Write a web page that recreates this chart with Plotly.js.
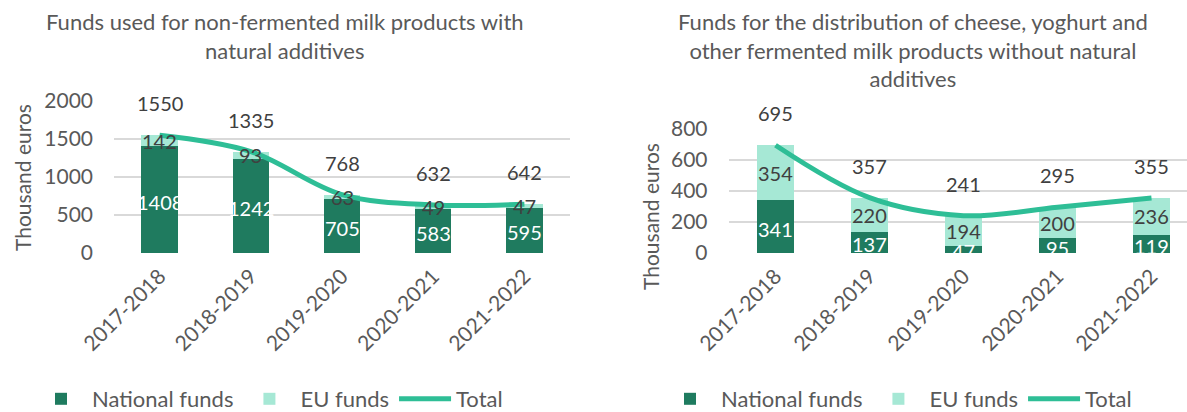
<!DOCTYPE html>
<html>
<head>
<meta charset="utf-8">
<script src="https://cdn.plot.ly/plotly-3.0.1.min.js"></script>
<style>html,body{margin:0;padding:0;background:#fff}#chart{width:1187px;height:412px}</style>
</head>
<body>
<div id="chart"></div>
<script>
const categories = ['2017-2018', '2018-2019', '2019-2020', '2020-2021', '2021-2022'];
const leftNational = [1408, 1242, 705, 583, 595];
const leftEU = [142, 93, 63, 49, 47];
const leftTotal = [1550, 1335, 768, 632, 642];
const rightNational = [341, 137, 47, 95, 119];
const rightEU = [354, 220, 194, 200, 236];
const rightTotal = [695, 357, 241, 295, 355];
const leftTitle = 'Funds used for non-fermented milk products with<br>natural additives';
const rightTitle = 'Funds for the distribution of cheese, yoghurt and<br>other fermented milk products without natural<br>additives';
const yTitle = 'Thousand euros';
const seriesNames = ['National funds', 'EU funds', 'Total'];

const FONT = 'Lato, "Open Sans", sans-serif';
const NAT = '#1F7B5F', EUC = '#A6E8D5', TOT = '#2EBE96';
const TXT = '#595959', LBL = '#404040';

function tracesFor(nat, eu, tot, xa, ya, leg) {
  return [
    {type: 'bar', name: seriesNames[0], x: categories, y: nat, xaxis: xa, yaxis: ya,
     marker: {color: NAT}, width: 0.4, legend: leg, hoverinfo: 'y'},
    {type: 'bar', name: seriesNames[1], x: categories, y: eu, xaxis: xa, yaxis: ya,
     marker: {color: EUC}, width: 0.4, legend: leg, hoverinfo: 'y'},
    {type: 'scatter', mode: 'lines', name: seriesNames[2], x: categories, y: tot, xaxis: xa, yaxis: ya,
     line: {color: TOT, width: 5, shape: 'spline', smoothing: 1}, legend: leg, hoverinfo: 'y'}
  ];
}

const data = [].concat(
  tracesFor(leftNational, leftEU, leftTotal, 'x', 'y', 'legend'),
  tracesFor(rightNational, rightEU, rightTotal, 'x2', 'y2', 'legend2')
);

function labelsFor(nat, eu, tot, xa, ya) {
  const out = [];
  categories.forEach((c, i) => {
    out.push({x: c, y: nat[i] / 2, xref: xa, yref: ya, text: String(nat[i]), showarrow: false, yshift: -2,
              font: {family: FONT, size: 20, color: '#FFFFFF'}});
    out.push({x: c, y: nat[i] + eu[i] / 2, xref: xa, yref: ya, text: String(eu[i]), showarrow: false,
              font: {family: FONT, size: 20, color: LBL}});
    out.push({x: c, y: tot[i], xref: xa, yref: ya, text: String(tot[i]), showarrow: false, yshift: 32,
              font: {family: FONT, size: 20, color: LBL}});
  });
  return out;
}

const annotations = [].concat(
  labelsFor(leftNational, leftEU, leftTotal, 'x', 'y'),
  labelsFor(rightNational, rightEU, rightTotal, 'x2', 'y2'),
  [
    {xref: 'paper', yref: 'paper', x: 285 / 1187, y: 1 - 6 / 412, yanchor: 'top', xanchor: 'center',
     text: leftTitle, showarrow: false, font: {family: FONT, size: 22, color: TXT}},
    {xref: 'paper', yref: 'paper', x: 913 / 1187, y: 1 - 6 / 412, yanchor: 'top', xanchor: 'center',
     text: rightTitle, showarrow: false, font: {family: FONT, size: 22, color: TXT}},
    {xref: 'paper', yref: 'paper', x: 22 / 1187, y: 1 - 178 / 412, xanchor: 'center', yanchor: 'middle',
     text: yTitle, textangle: -90, showarrow: false, font: {family: FONT, size: 21, color: TXT}},
    {xref: 'paper', yref: 'paper', x: 650 / 1187, y: 1 - 217 / 412, xanchor: 'center', yanchor: 'middle',
     text: yTitle, textangle: -90, showarrow: false, font: {family: FONT, size: 21, color: TXT}}
  ]
);

const axisFont = {family: FONT, size: 21, color: TXT};
const xCommon = {type: 'category', showgrid: false, zeroline: false, showline: false, ticks: '',
                 tickangle: -45, tickfont: axisFont, ticklabelstandoff: 6, fixedrange: true, automargin: false};
const yCommon = {showgrid: true, gridcolor: '#D9D9D9', gridwidth: 1.5, zeroline: false, showline: false,
                 ticks: '', tickfont: axisFont, ticklabelstandoff: 20, fixedrange: true, automargin: false};

const legendCommon = {orientation: 'h', xanchor: 'left', y: 13 / 412, yanchor: 'middle', traceorder: 'normal',
                      font: {family: FONT, size: 22, color: TXT}, bgcolor: 'rgba(0,0,0,0)', itemwidth: 52};

const layout = {
  width: 1187, height: 412,
  margin: {l: 0, r: 0, t: 0, b: 0, autoexpand: false},
  paper_bgcolor: '#FFFFFF', plot_bgcolor: '#FFFFFF',
  font: {family: FONT, color: TXT},
  barmode: 'stack',
  showlegend: true,
  xaxis: Object.assign({}, xCommon, {domain: [114 / 1187, 570 / 1187], anchor: 'y', range: [-0.5, 4.5]}),
  yaxis: Object.assign({}, yCommon, {domain: [(412 - 253) / 412, (412 - 101) / 412], anchor: 'x',
                                      range: [0, 2000], dtick: 500}),
  xaxis2: Object.assign({}, xCommon, {domain: [728.5 / 1187, 1], anchor: 'y2', range: [-0.5, 4.5 - 11.5 / 94]}),
  yaxis2: Object.assign({}, yCommon, {domain: [(412 - 253) / 412, (412 - 129) / 412], anchor: 'x2',
                                       range: [0, 800], dtick: 200}),
  legend: Object.assign({}, legendCommon, {x: 30 / 1187}),
  legend2: Object.assign({}, legendCommon, {x: 659 / 1187}),
  annotations: annotations
};

Plotly.newPlot('chart', data, layout, {displayModeBar: false, staticPlot: true});
</script>
</body>
</html>
